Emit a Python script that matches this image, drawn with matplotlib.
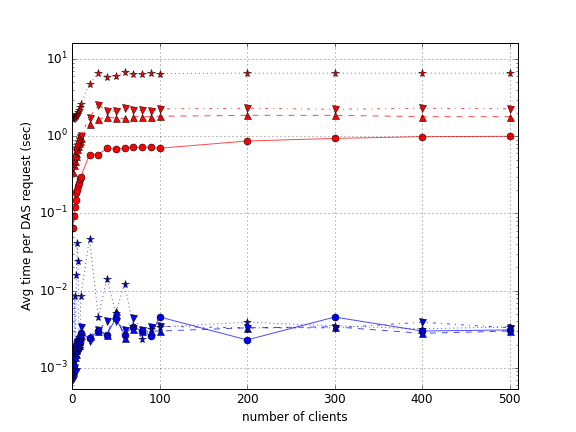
import numpy as np
import matplotlib
matplotlib.use('Agg')
from matplotlib import pyplot as plt

plt.style.use('classic')

clients = [1, 2, 3, 4, 5, 6, 7, 8, 9, 10, 20, 30, 40, 50, 60, 70, 80, 90, 100,
           200, 300, 400, 500]

# slow server (red)
red_circle = [0.065, 0.092, 0.12, 0.15, 0.185, 0.2, 0.225, 0.25, 0.28, 0.30,
              0.58, 0.58, 0.70, 0.68, 0.70, 0.72, 0.72, 0.72, 0.70,
              0.87, 0.94, 0.99, 1.0]
red_up = [0.35, 0.42, 0.48, 0.55, 0.6, 0.68, 0.75, 0.82, 0.88, 0.95,
          1.45, 1.66, 1.80, 1.71, 1.71, 1.80, 1.80, 1.80, 1.82,
          1.87, 1.87, 1.80, 1.80]
red_down = [0.40, 0.46, 0.53, 0.6, 0.66, 0.72, 0.8, 0.87, 0.95, 1.02,
            1.75, 2.55, 2.13, 2.13, 2.36, 2.17, 2.17, 2.13, 2.27,
            2.31, 2.24, 2.31, 2.28]
red_star = [1.70, 1.73, 1.77, 1.82, 1.88, 1.96, 2.06, 2.2, 2.4, 2.6,
            4.8, 6.7, 5.96, 6.06, 6.84, 6.45, 6.4, 6.7, 6.5,
            6.58, 6.58, 6.58, 6.58]

# fast server (blue)
blue_circle = [0.0012, 0.0015, 0.0018, 0.0016, 0.0020, 0.0022, 0.0019, 0.0024, 0.0021, 0.0028,
               0.0024, 0.0030, 0.0027, 0.0044, 0.0027, 0.0034, 0.0030, 0.0026, 0.00457,
               0.0023, 0.00455, 0.0030, 0.0031]
blue_up = [0.0009, 0.0011, 0.0014, 0.0017, 0.0015, 0.0019, 0.0022, 0.0020, 0.0025, 0.0027,
           0.0026, 0.0030, 0.0027, 0.0054, 0.0024, 0.0032, 0.0030, 0.0030, 0.0030,
           0.0033, 0.0034, 0.0028, 0.0030]
blue_down = [0.00072, 0.0010, 0.0013, 0.0016, 0.00091, 0.0018, 0.0021, 0.0017, 0.0024, 0.0034,
             0.0022, 0.0031, 0.0040, 0.0040, 0.0031, 0.0044, 0.0031, 0.0034, 0.00345,
             0.0033, 0.0033, 0.0039, 0.0033]
blue_star = [0.0008, 0.0011, 0.0086, 0.0015, 0.016, 0.042, 0.024, 0.0018, 0.0022, 0.0086,
             0.047, 0.0046, 0.0143, 0.0051, 0.0122, 0.0035, 0.00236, 0.0032, 0.0034,
             0.0039, 0.0035, 0.0032, 0.0034]

fig = plt.figure(figsize=(8, 6), dpi=72, facecolor='white')
ax = fig.add_subplot(111)

series = [
    (red_circle, 'r', 'o', '-', 7),
    (red_up, 'r', '^', '--', 7),
    (red_down, 'r', 'v', '-.', 7),
    (red_star, 'r', '*', ':', 8),
    (blue_circle, 'b', 'o', '-', 7),
    (blue_up, 'b', '^', '--', 7),
    (blue_down, 'b', 'v', '-.', 7),
    (blue_star, 'b', '*', ':', 8),
]
for vals, c, m, ls, ms in series:
    # lines a bit faded, markers solid
    ax.plot(clients, vals, color=c, linestyle=ls, linewidth=1, alpha=0.7)
    ax.plot(clients, vals, color=c, linestyle='none', marker=m, markersize=ms,
            markeredgecolor='k', markeredgewidth=0.5)

ax.set_yscale('log')
ax.set_xlim(0, 510)
ax.set_ylim(5.35e-4, 16.1)
ax.set_xticks([0, 100, 200, 300, 400, 500])
ax.grid(True, color='k', linestyle=':', linewidth=0.5)
ax.set_xlabel('number of clients')
ax.set_ylabel('Avg time per DAS request (sec)')

fig.subplots_adjust(left=0.125, right=0.9, bottom=0.1, top=0.9)
fig.savefig('out.png', dpi=72, facecolor='white')
